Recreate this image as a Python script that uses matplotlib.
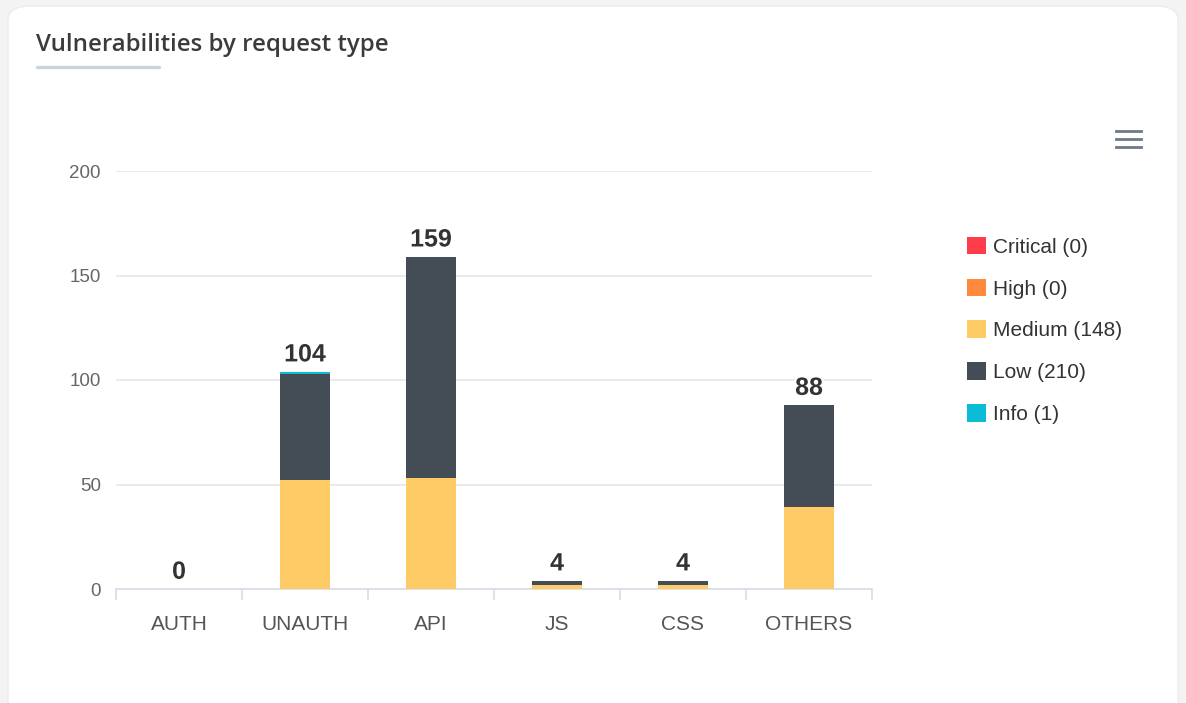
import matplotlib.pyplot as plt
import matplotlib.patheffects as pe
from matplotlib.patches import FancyBboxPatch, Patch
from matplotlib.lines import Line2D
import numpy as np

# data
categories = ['AUTH', 'UNAUTH', 'API', 'JS', 'CSS', 'OTHERS']
medium = [0, 52, 53, 2, 2, 39]
low = [0, 51, 106, 2, 2, 49]
info = [0, 1, 0, 0, 0, 0]
high = [0, 0, 0, 0, 0, 0]
critical = [0, 0, 0, 0, 0, 0]

series = [('Medium', medium, '#ffcb66'),
          ('Low', low, '#444c56'),
          ('Info', info, '#0bbcd6'),
          ('High', high, '#ff8a3d'),
          ('Critical', critical, '#ff3d4a')]
legend_order = ['Critical', 'High', 'Medium', 'Low', 'Info']

W, H = 1186, 703
fig = plt.figure(figsize=(W / 100, H / 100), dpi=100)
fig.patch.set_facecolor('#f3f3f3')

# white card
card = FancyBboxPatch((8 / W, -0.05), (1178 - 8) / W, (H - 6) / H + 0.05,
                      boxstyle='round,pad=0,rounding_size=0.02',
                      transform=fig.transFigure, facecolor='white',
                      edgecolor='#ececec', lw=1, zorder=-10)
fig.patches.append(card)

# title and underline
fig.text(36 / W, 1 - 45 / H, 'Vulnerabilities by request type', fontsize=17.3,
         family='Open Sans', fontweight='semibold', color='#3b3b3b',
         va='center', ha='left')
fig.add_artist(Line2D([37 / W, 159 / W], [1 - 67 / H, 1 - 67 / H],
                      transform=fig.transFigure, color='#cdd3dc', lw=2.4,
                      solid_capstyle='round'))

# hamburger menu
for yy in [131, 139, 147]:
    fig.add_artist(Line2D([1116 / W, 1141 / W], [1 - yy / H, 1 - yy / H],
                          transform=fig.transFigure, color='#6c7a89', lw=2.0))

ax = fig.add_axes([116 / W, 114 / H, (872 - 116) / W, 418 / H])
ax.set_facecolor('none')
x = np.arange(len(categories))
bottom = np.zeros(len(categories))
handles = {}
for name, vals, col in series:
    vals = np.array(vals, dtype=float)
    ax.bar(x, vals, bottom=bottom, width=0.4, color=col, zorder=3)
    bottom += vals
    handles[name] = (Patch(facecolor=col), '%s (%d)' % (name, vals.sum()))

totals = bottom
for xi, t in zip(x, totals):
    ax.text(xi, t + 2.5, '%d' % t, ha='center', va='bottom', fontsize=18,
            fontweight='bold', family='Liberation Sans', color='#333333',
            zorder=5, path_effects=[pe.withStroke(linewidth=3, foreground='white')])

ax.set_xlim(-0.5, len(categories) - 0.5)
ax.set_ylim(0, 200)
ax.set_yticks([0, 50, 100, 150, 200])
ax.grid(axis='y', color='#e6e6e6', lw=1.2, zorder=0)
for s in ['top', 'right', 'left']:
    ax.spines[s].set_visible(False)
ax.spines['bottom'].set_color('#d8dde6')
ax.spines['bottom'].set_linewidth(1.2)
ax.tick_params(axis='y', length=0, pad=11, labelsize=13.5, labelcolor='#666666')
ax.set_xticks(x)
ax.set_xticklabels(categories)
ax.tick_params(axis='x', length=0, pad=19, labelsize=15, labelcolor='#555555')
for lab in ax.get_xticklabels() + ax.get_yticklabels():
    lab.set_family('Liberation Sans')
# category boundary ticks
ax.set_xticks(np.arange(len(categories) + 1) - 0.5, minor=True)
ax.tick_params(axis='x', which='minor', length=8, width=1.2, color='#d8dde6')

leg = fig.legend([handles[n][0] for n in legend_order],
                 [handles[n][1] for n in legend_order],
                 loc='upper left', bbox_to_anchor=(948 / W, 1 - 218 / H),
                 frameon=False, handlelength=0.92, handleheight=0.92,
                 handletextpad=0.35, labelspacing=1.05,
                 prop={'family': 'Liberation Sans', 'size': 15})
for t in leg.get_texts():
    t.set_color('#333333')

fig.savefig('out.png', dpi=100, facecolor=fig.get_facecolor())
